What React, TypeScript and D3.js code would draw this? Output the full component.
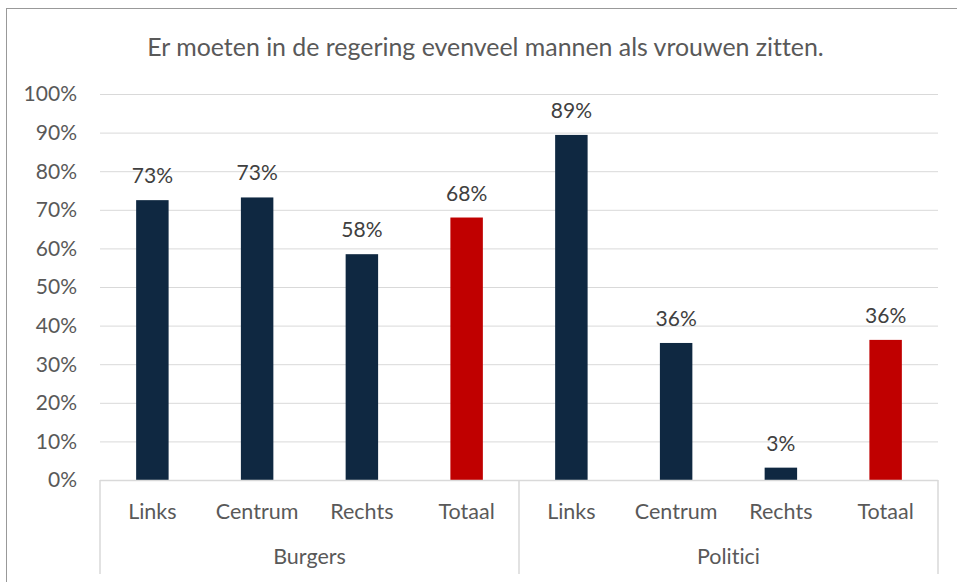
import React from "react";
import * as d3 from "d3";

const title = "Er moeten in de regering evenveel mannen als vrouwen zitten.";
const groups = ["Burgers", "Politici"];
const categories = ["Links", "Centrum", "Rechts", "Totaal"];
const burgersValues = [72.5, 73.2, 58.5, 68.0];
const politiciValues = [89.4, 35.5, 3.2, 36.3];
const labels = [["73%", "73%", "58%", "68%"], ["89%", "36%", "3%", "36%"]];
const yTicks = [0, 10, 20, 30, 40, 50, 60, 70, 80, 90, 100];

const W = 957, H = 582;
const left = 100, right = 938, top = 94, bottom = 480;
const FONT = "Lato, 'Open Sans', sans-serif";
const NAVY = "#0F2841";
const RED = "#C00000";
const TXT = "#595959";
const GRID = "#D9D9D9";

export default function App() {
  const seriesData = [burgersValues, politiciValues];
  const items = groups.flatMap((g, gi) =>
    categories.map((c, ci) => ({ key: `${g}-${c}`, group: g, cat: c, gi, ci, value: seriesData[gi][ci], label: labels[gi][ci] }))
  );
  const x = d3.scaleBand<string>().domain(items.map(d => d.key)).range([left, right]).paddingInner(0.69).paddingOuter(0.345);
  const xOuter = d3.scaleBand<string>().domain(items.map(d => d.key)).range([left, right]);
  const y = d3.scaleLinear().domain([0, 100]).range([bottom, top]);
  const groupWidth = (right - left) / groups.length;

  return (
    <svg width={W} height={H} style={{ position: "absolute", left: 0, top: 0, background: "#fff", fontVariantLigatures: "none" }} fontFamily={FONT}>
      <rect x={6.5} y={8.5} width={W + 10} height={H + 10} fill="#fff" stroke="#999" strokeWidth={1} />
      <text x={485.5} y={56} textAnchor="middle" fontSize={24.9} fill={TXT}>{title}</text>
      {yTicks.map(t => (
        <g key={t}>
          {t > 0 && <line x1={left} x2={right} y1={y(t) + 0.5} y2={y(t) + 0.5} stroke={GRID} strokeWidth={1} />}
          <text x={77} y={y(t)} dy="0.35em" textAnchor="end" fontSize={21} fill={TXT}>{t}%</text>
        </g>
      ))}
      {items.map(d => (
        <g key={d.key}>
          <rect x={x(d.key)} y={y(d.value)} width={x.bandwidth()} height={bottom - y(d.value)}
            fill={d.cat === "Totaal" ? RED : NAVY} />
          <text x={(x(d.key) as number) + x.bandwidth() / 2} y={y(d.value) - 17} textAnchor="middle" fontSize={21} fill="#404040">{d.label}</text>
          <text x={(xOuter(d.key) as number) + xOuter.bandwidth() / 2} y={519} textAnchor="middle" fontSize={21.5} fill={TXT}>{d.cat}</text>
        </g>
      ))}
      <line x1={left} x2={right} y1={bottom + 0.5} y2={bottom + 0.5} stroke={GRID} strokeWidth={1.5} />
      {d3.range(groups.length + 1).map(i => (
        <line key={i} x1={left + i * groupWidth} x2={left + i * groupWidth} y1={bottom} y2={574} stroke={GRID} strokeWidth={1.5} />
      ))}
      {groups.map((g, i) => (
        <text key={g} x={left + (i + 0.5) * groupWidth} y={564} textAnchor="middle" fontSize={21.5} fill={TXT}>{g}</text>
      ))}
    </svg>
  );
}
